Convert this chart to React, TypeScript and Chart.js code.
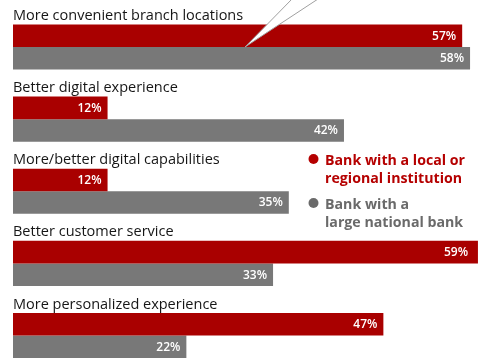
import React, { useEffect, useRef } from "react";
import { Chart, registerables } from "chart.js";

Chart.register(...registerables);

const categories = [
  "More convenient branch locations",
  "Better digital experience",
  "More/better digital capabilities",
  "Better customer service",
  "More personalized experience",
];
const localValues = [57, 12, 12, 59, 47];
const nationalValues = [58, 42, 35, 33, 22];
const seriesNames = [
  ["Bank with a local or", "regional institution"],
  ["Bank with a", "large national bank"],
];
const RED = "#a90000";
const GRAY = "#787878";
const FONT = "'Open Sans', sans-serif";

const overlayPlugin = {
  id: "overlay",
  afterDatasetsDraw(chart: any) {
    const ctx = chart.ctx as CanvasRenderingContext2D;
    const yScale = chart.scales.y;
    ctx.save();
    // value labels
    chart.data.datasets.forEach((ds: any, di: number) => {
      const meta = chart.getDatasetMeta(di);
      meta.data.forEach((bar: any, i: number) => {
        ctx.font = `600 12px ${FONT}`;
        ctx.fillStyle = "#ffffff";
        ctx.textAlign = "right";
        ctx.textBaseline = "middle";
        ctx.fillText(ds.data[i] + "%", Math.min(bar.x, 474) - 6, bar.y + 0.5);
      });
    });
    // category labels
    categories.forEach((c, i) => {
      const top = yScale.getPixelForValue(i) - 22.5;
      ctx.font = `500 14.5px ${FONT}`;
      ctx.fillStyle = "#161616";
      ctx.textAlign = "left";
      ctx.textBaseline = "alphabetic";
      ctx.fillText(c, 13, top - 4.5);
    });
    // wedge callout
    const apexY = yScale.getPixelForValue(0);
    ctx.beginPath();
    ctx.moveTo(292, -1);
    ctx.lineTo(245, apexY);
    ctx.lineTo(318, -1);
    ctx.closePath();
    ctx.fillStyle = "#ffffff";
    ctx.fill();
    ctx.beginPath();
    ctx.moveTo(292, -1);
    ctx.lineTo(245, apexY);
    ctx.lineTo(318, -1);
    ctx.strokeStyle = "#a0a0a0";
    ctx.lineWidth = 1;
    ctx.stroke();
    // legend
    const legendColors = ["#b50000", "#6a6a6a"];
    const legendY = [165, 209];
    seriesNames.forEach((lines, i) => {
      ctx.fillStyle = legendColors[i];
      ctx.beginPath();
      ctx.arc(313.5, legendY[i] - 6, 5, 0, Math.PI * 2);
      ctx.fill();
      ctx.font = `700 14.2px ${FONT}`;
      ctx.textAlign = "left";
      ctx.textBaseline = "alphabetic";
      lines.forEach((t, j) => {
        ctx.fillText(t, 325, legendY[i] + j * 18);
      });
    });
    ctx.restore();
  },
};

export default function App() {
  const ref = useRef<HTMLCanvasElement>(null);
  useEffect(() => {
    if (!ref.current) return;
    const chart = new Chart(ref.current, {
      type: "bar",
      data: {
        labels: categories,
        datasets: [
          {
            label: seriesNames[0].join(" "),
            data: localValues,
            backgroundColor: RED,
            categoryPercentage: 0.625,
            barPercentage: 1,
            clip: false as any,
          },
          {
            label: seriesNames[1].join(" "),
            data: nationalValues,
            backgroundColor: GRAY,
            categoryPercentage: 0.625,
            barPercentage: 1,
            clip: false as any,
          },
        ],
      },
      options: {
        indexAxis: "y",
        responsive: false,
        animation: false,
        layout: { padding: { top: 47, bottom: 25.5, left: 13, right: 7 } },
        scales: {
          x: { display: false, min: 0, max: 58.5, grid: { display: false } },
          y: { display: false, offset: false, grid: { display: false } },
        },
        plugins: { legend: { display: false }, tooltip: { enabled: false } },
      },
      plugins: [overlayPlugin],
    });
    return () => chart.destroy();
  }, []);
  return (
    <div style={{ position: "fixed", left: 0, top: 0, width: 481, height: 361, background: "#fff" }}>
      <canvas ref={ref} width={481} height={361} style={{ display: "block" }} />
    </div>
  );
}
